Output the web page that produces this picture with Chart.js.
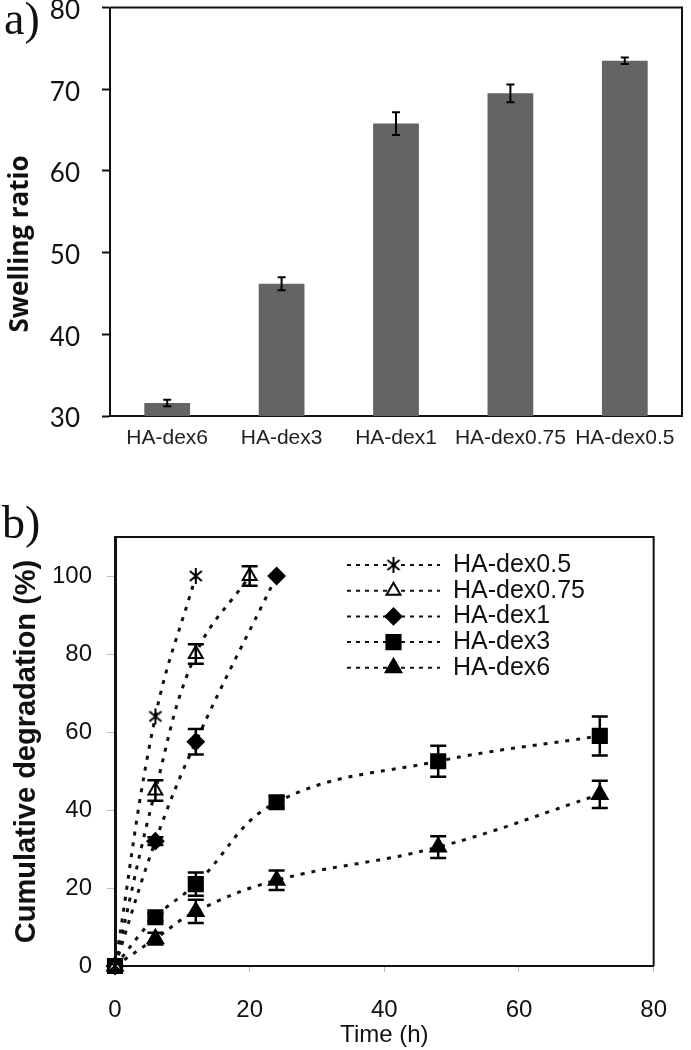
<!DOCTYPE html>
<html>
<head>
<meta charset="utf-8">
<script src="https://cdn.jsdelivr.net/npm/chart.js"></script>
<style>
  body { margin: 0; background: #fff; width: 691px; height: 1050px; position: relative; overflow: hidden; }
  canvas { position: absolute; left: 0; }
  /* y-axis padding pushes the plot down ~30px, so the canvas is pulled up */
  #swell { top: -30px; }
  #degr { top: 470px; }
  .tag { position: absolute; font-family: "Liberation Serif", serif; font-size: 46px; line-height: 1; color: #111; z-index: 2; }
  #swellTitle { position: absolute; left: 18px; top: 244px; transform: translate(-50%, -50%) rotate(-90deg);
    font: bold 26px "Open Sans", sans-serif; color: #111; white-space: nowrap; }
</style>
</head>
<body>
<canvas id="swell" width="691" height="500"></canvas>
<canvas id="degr" width="691" height="580"></canvas>
<div class="tag" style="left:4px; top:-4px;">a)</div>
<div class="tag" style="left:2px; top:500px;">b)</div>
<div id="swellTitle">Swelling ratio</div>
<script>
// a) swelling ratio of each gel
const gels = ['HA-dex6', 'HA-dex3', 'HA-dex1', 'HA-dex0.75', 'HA-dex0.5'];
const swelling = [31.6, 46.2, 65.8, 69.5, 73.5];
const swellingErr = [0.4, 0.8, 1.4, 1.1, 0.4];

// b) cumulative degradation (%) vs time (h)
const time05 = [0, 6, 12];
const deg05 = [0, 64, 100];
const err05 = [0, 0, 0];

const time075 = [0, 6, 12, 20];
const deg075 = [0, 45, 80, 100];
const err075 = [0, 2.6, 2.5, 2.5];

const time1 = [0, 6, 12, 24];
const deg1 = [0, 32, 57.5, 100];
const err1 = [0, 1, 3.3, 0];

const time3 = [0, 6, 12, 24, 48, 72];
const deg3 = [0, 12.5, 21, 42, 52.5, 59];
const err3 = [1.5, 1, 3, 1.5, 4, 5];

const time6 = [0, 6, 12, 24, 48, 72];
const deg6 = [0, 7, 14, 22, 30.5, 44];
const err6 = [1.5, 1.5, 3, 2.5, 2.8, 3.5];

const xTicks = { min: 0, max: 80, step: 20 };
const yTicks = { min: 0, max: 110, step: 20 };

// excel style asterisk marker
function asterisk(size) {
    const c = document.createElement('canvas');
    c.width = c.height = size;
    const g = c.getContext('2d');
    const m = size / 2;
    g.strokeStyle = '#000';
    g.lineWidth = 2;
    g.beginPath();
    g.moveTo(m, 1); g.lineTo(m, size - 1);
    g.moveTo(m - 6, m - 5); g.lineTo(m + 6, m + 5);
    g.moveTo(m + 6, m - 5); g.lineTo(m - 6, m + 5);
    g.stroke();
    return c;
}

// error bars drawn from each dataset's errors array
const errorBars = {
    id: 'errorBars',
    afterDatasetsDraw(chart, args, opts) {
        const ctx = chart.ctx;
        const ys = chart.scales.y;
        ctx.save();
        ctx.strokeStyle = '#000';
        ctx.lineWidth = opts.width;
        chart.data.datasets.forEach((ds, i) => {
            if (!ds.errors) return;
            chart.getDatasetMeta(i).data.forEach((el, j) => {
                const err = ds.errors[j];
                if (!err) return;
                const v = typeof ds.data[j] === 'object' ? ds.data[j].y : ds.data[j];
                const top = ys.getPixelForValue(v + err);
                const bot = ys.getPixelForValue(v - err);
                ctx.beginPath();
                ctx.moveTo(el.x, top); ctx.lineTo(el.x, bot);
                ctx.moveTo(el.x - opts.cap, top); ctx.lineTo(el.x + opts.cap, top);
                ctx.moveTo(el.x - opts.cap, bot); ctx.lineTo(el.x + opts.cap, bot);
                ctx.stroke();
            });
        });
        ctx.restore();
    }
};

// top + right edge of the plot box
const frame = {
    id: 'frame',
    afterDraw(chart, args, opts) {
        const { left, top, right, bottom } = chart.chartArea;
        const ctx = chart.ctx;
        ctx.save();
        ctx.strokeStyle = opts.color;
        ctx.lineWidth = opts.width;
        ctx.beginPath();
        ctx.moveTo(left, top);
        ctx.lineTo(right, top);
        ctx.lineTo(right, bottom);
        ctx.stroke();
        ctx.restore();
    }
};

// legend: dotted line with the marker in the middle
const seriesLegend = {
    id: 'seriesLegend',
    afterDraw(chart, args, opts) {
        const ctx = chart.ctx;
        const a = chart.chartArea;
        ctx.save();
        chart.data.datasets.forEach((ds, i) => {
            const y = a.top + opts.top + i * opts.row;
            const x0 = a.left + opts.left;
            ctx.strokeStyle = '#111';
            ctx.lineWidth = 2;
            ctx.setLineDash([4, 5]);
            ctx.beginPath();
            ctx.moveTo(x0, y);
            ctx.lineTo(x0 + opts.line, y);
            ctx.stroke();
            ctx.setLineDash([]);
            ctx.fillStyle = ds.pointBackgroundColor;
            ctx.strokeStyle = ds.pointBorderColor;
            ctx.lineWidth = ds.pointBorderWidth;
            Chart.helpers.drawPoint(ctx, {
                pointStyle: ds.pointStyle, rotation: 0,
                radius: ds.pointRadius, borderWidth: ds.pointBorderWidth
            }, x0 + opts.line / 2, y);
            ctx.fillStyle = '#111';
            ctx.font = opts.font;
            ctx.textBaseline = 'middle';
            ctx.fillText(ds.label, x0 + opts.line + opts.gap, y);
        });
        ctx.restore();
    }
};

new Chart(document.getElementById('swell'), {
    type: 'bar',
    data: {
        labels: gels,
        datasets: [{
            data: swelling,
            errors: swellingErr,
            backgroundColor: '#646464',
            barPercentage: 0.4,
            categoryPercentage: 1
        }]
    },
    options: {
        responsive: false,
        animation: false,
        devicePixelRatio: 1,
        layout: { autoPadding: false, padding: { left: 0, right: 9, top: 7, bottom: 0 } },
        plugins: {
            legend: { display: false },
            tooltip: { enabled: false },
            errorBars: { width: 2, cap: 4 },
            frame: { color: '#111', width: 2 }
        },
        scales: {
            x: {
                grid: { display: false, drawTicks: false },
                border: { color: '#111', width: 2 },
                ticks: {
                    color: '#222', autoSkip: false, maxRotation: 0, padding: 10,
                    font: { family: 'Liberation Sans', size: 21 }
                },
                afterFit: s => { s.height = 54; }
            },
            y: {
                min: 30,
                max: 80,
                ticks: { stepSize: 10, color: '#111', padding: 22, labelOffset: 3, font: { family: 'Lato', size: 26 } },
                grid: { drawOnChartArea: false, tickLength: 8, tickColor: '#111', tickWidth: 2 },
                border: { color: '#111', width: 2 },
                afterFit: s => { s.width = 110; }
            }
        }
    },
    plugins: [errorBars, frame]
});

function series(label, xs, ys, errs, style, radius, fill) {
    return {
        label: label,
        data: xs.map((t, k) => ({ x: t, y: ys[k] })),
        errors: errs,
        showLine: true,
        tension: 0.4,
        clip: false,
        borderColor: '#111',
        borderWidth: 3,
        borderDash: [4, 7],
        pointStyle: style,
        pointRadius: radius,
        pointBackgroundColor: fill,
        pointBorderColor: '#000',
        pointBorderWidth: 2
    };
}

new Chart(document.getElementById('degr'), {
    type: 'scatter',
    data: {
        datasets: [
            series('HA-dex0.5', time05, deg05, err05, asterisk(18), 8, '#000'),
            series('HA-dex0.75', time075, deg075, err075, 'triangle', 8, '#fff'),
            series('HA-dex1', time1, deg1, err1, 'rectRot', 8, '#000'),
            series('HA-dex3', time3, deg3, err3, 'rect', 10, '#000'),
            series('HA-dex6', time6, deg6, err6, 'triangle', 9, '#000')
        ]
    },
    options: {
        responsive: false,
        animation: false,
        devicePixelRatio: 1,
        layout: { autoPadding: false, padding: { left: 0, right: 14, top: 67, bottom: 0 } },
        plugins: {
            legend: { display: false },
            tooltip: { enabled: false },
            errorBars: { width: 2.5, cap: 8 },
            frame: { color: '#111', width: 2 },
            seriesLegend: { left: 232, top: 28, row: 25.7, line: 93, gap: 13, font: '25px "Liberation Sans"' }
        },
        scales: {
            x: {
                type: 'linear',
                min: xTicks.min,
                max: xTicks.max,
                ticks: { stepSize: xTicks.step, color: '#111', padding: 24, font: { family: 'Liberation Sans', size: 24 } },
                grid: { drawOnChartArea: false, tickLength: 6, tickColor: '#bbb' },
                border: { color: '#111', width: 2 },
                title: {
                    display: true, text: 'Time (h)', color: '#111', padding: 0,
                    font: { family: 'Liberation Sans', size: 24 }
                },
                afterFit: s => { s.height = 84; }
            },
            y: {
                min: yTicks.min,
                max: yTicks.max,
                ticks: { stepSize: yTicks.step, includeBounds: false, color: '#111', padding: 15, font: { family: 'Liberation Sans', size: 24 } },
                grid: { drawOnChartArea: false, tickLength: 8, tickColor: '#bbb' },
                border: { color: '#111', width: 3 },
                title: {
                    display: true, text: 'Cumulative degradation (%)', color: '#111', padding: 10,
                    font: { family: 'Liberation Sans', size: 29, weight: 'bold' }
                },
                afterFit: s => { s.width = 115; }
            }
        }
    },
    plugins: [errorBars, frame, seriesLegend]
});
</script>
</body>
</html>
